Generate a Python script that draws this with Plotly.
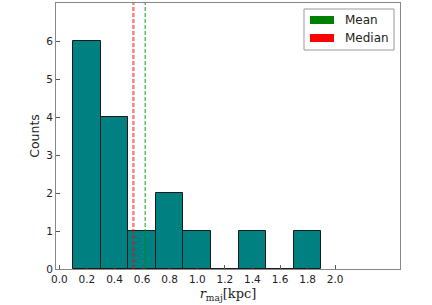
import plotly.graph_objects as go

bin_centers = [0.2, 0.4, 0.6, 0.8, 1.0, 1.2, 1.4, 1.6, 1.8]
counts = [6, 4, 1, 2, 1, 0, 1, 0, 1]
bin_width = 0.2
mean_val = 0.623
median_val = 0.537
x_ticks = [0.0, 0.2, 0.4, 0.6, 0.8, 1.0, 1.2, 1.4, 1.6, 1.8, 2.0]
y_ticks = [0, 1, 2, 3, 4, 5, 6]
legend_labels = ["Mean", "Median"]
legend_colors = ["green", "red"]

fig = go.Figure()
fig.add_trace(go.Bar(
    x=bin_centers, y=counts, width=bin_width,
    marker=dict(color="#008080", line=dict(color="#1a1a1a", width=1)),
    showlegend=False,
))
fig.add_trace(go.Scatter(x=[median_val, median_val], y=[0, 7], mode="lines",
                         line=dict(color="rgba(255,0,0,0.5)", width=2.5, dash="4px,2px"),
                         showlegend=False))
fig.add_trace(go.Scatter(x=[mean_val, mean_val], y=[0, 7], mode="lines",
                         line=dict(color="rgba(0,140,0,0.6)", width=1.5, dash="4px,2px"),
                         showlegend=False))

axis_common = dict(showline=True, linecolor="#888888", linewidth=1, mirror=True,
                   ticks="inside", tickcolor="#555555", ticklen=4, showgrid=False,
                   zeroline=False, tickfont=dict(family="DejaVu Sans", size=10.5, color="#222"))

# manual legend (paper coords: plot area spans x 56..400 px, y 3..269 px)
def px(xp):
    return (xp - 56) / 344.0

def py(yp):
    return (269 - yp) / 266.0

shapes = [dict(type="rect", xref="paper", yref="paper",
               x0=px(304), x1=px(394), y0=py(50), y1=py(9),
               line=dict(color="#999999", width=1), fillcolor="white", layer="above")]
annotations = []
for i, (lab, col) in enumerate(zip(legend_labels, legend_colors)):
    cy = 20 + 18 * i
    shapes.append(dict(type="rect", xref="paper", yref="paper",
                       x0=px(310), x1=px(334), y0=py(cy + 4), y1=py(cy - 4),
                       line=dict(width=0), fillcolor=col, layer="above"))
    annotations.append(dict(text=lab, xref="paper", yref="paper", x=px(343), y=py(cy),
                            xanchor="left", yanchor="middle", showarrow=False,
                            font=dict(family="DejaVu Sans", size=12, color="#222")))

fig.update_layout(
    width=432, height=305,
    margin=dict(l=56, r=32, t=3, b=36),
    plot_bgcolor="white", paper_bgcolor="white",
    bargap=0, showlegend=False,
    shapes=shapes, annotations=annotations,
    xaxis=dict(range=[-0.024, 2.47], tickvals=x_ticks,
               ticktext=[f"{v:.1f}" for v in x_ticks],
               title=dict(text="<i>r</i><sub>maj</sub>[kpc]",
                          font=dict(family="DejaVu Serif", size=13, color="#222"), standoff=5),
               **axis_common),
    yaxis=dict(range=[0, 7], tickvals=y_ticks,
               title=dict(text="Counts", font=dict(family="DejaVu Sans", size=12.5, color="#222"), standoff=3),
               **axis_common),
)

fig.write_html("out.html", config={"displayModeBar": False},
               post_script="document.body.style.margin='0';")
